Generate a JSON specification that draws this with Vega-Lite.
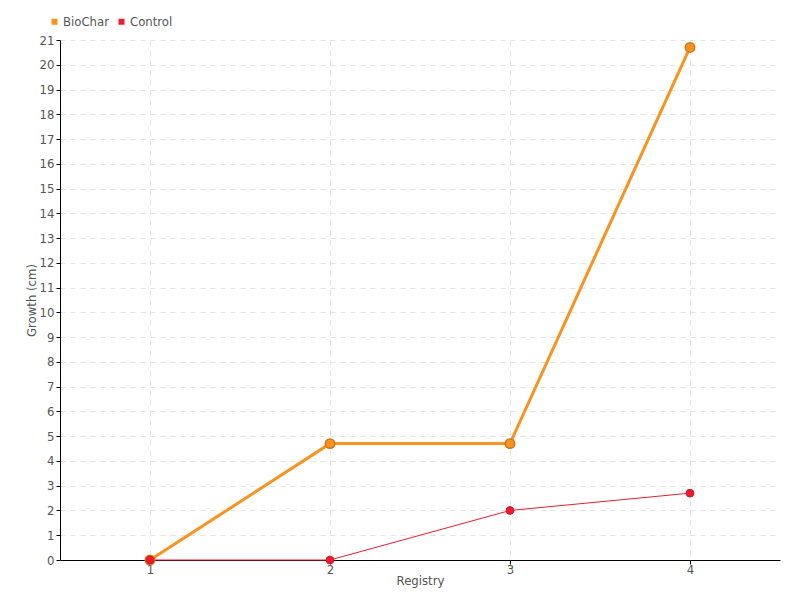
{
  "$schema": "https://vega.github.io/schema/vega-lite/v6.json",
  "width": 720,
  "height": 520,
  "autosize": "none",
  "padding": {"left": 60, "top": 40, "right": 20, "bottom": 40},
  "background": "white",
  "config": {
    "font": "DejaVu Sans Condensed, Liberation Sans Narrow, sans-serif",
    "view": {"stroke": null},
    "axis": {"labelColor": "#555", "titleColor": "#555", "labelFontSize": 13, "titleFontSize": 13, "titleFontWeight": "normal", "domainColor": "black", "tickColor": "black", "gridColor": "#e3e3e3", "gridDash": [5, 5], "gridWidth": 1}
  },
  "data": {
    "values": [
      {"series": "BioChar", "registry": 1, "growth": 0},
      {"series": "BioChar", "registry": 2, "growth": 4.7},
      {"series": "BioChar", "registry": 3, "growth": 4.7},
      {"series": "BioChar", "registry": 4, "growth": 20.7},
      {"series": "Control", "registry": 1, "growth": 0},
      {"series": "Control", "registry": 2, "growth": 0},
      {"series": "Control", "registry": 3, "growth": 2},
      {"series": "Control", "registry": 4, "growth": 2.7}
    ]
  },
  "encoding": {
    "x": {"field": "registry", "type": "quantitative", "scale": {"domain": [0.5, 4.5], "nice": false, "zero": false},
      "axis": {"values": [1, 2, 3, 4], "title": "Registry", "format": "d", "tickSize": 4, "labelPadding": -1, "titlePadding": -2}},
    "y": {"field": "growth", "type": "quantitative", "scale": {"domain": [0, 21], "nice": false},
      "axis": {"values": [0,1,2,3,4,5,6,7,8,9,10,11,12,13,14,15,16,17,18,19,20,21], "title": "Growth (cm)", "tickSize": 4, "labelPadding": 2, "titlePadding": 1}},
    "color": {"field": "series", "type": "nominal", "scale": {"domain": ["BioChar", "Control"], "range": ["#f7931e", "#ee1c2e"]},
      "legend": {"title": null, "orient": "none", "legendX": -12, "legendY": -25, "direction": "horizontal", "symbolType": "square", "symbolSize": 36, "symbolStrokeWidth": 0, "labelFontSize": 13, "labelColor": "#555", "columnPadding": 6, "labelOffset": 2}}
  },
  "layer": [
    {
      "transform": [{"filter": "datum.series === 'BioChar'"}],
      "mark": {"type": "line", "strokeWidth": 3},
      "encoding": {"order": {"field": "registry", "type": "quantitative"}}
    },
    {
      "transform": [{"filter": "datum.series === 'Control'"}],
      "mark": {"type": "line", "strokeWidth": 1},
      "encoding": {"order": {"field": "registry", "type": "quantitative"}}
    },
    {
      "transform": [{"filter": "datum.series === 'BioChar'"}],
      "mark": {"type": "point", "filled": true, "opacity": 1, "strokeWidth": 1.5, "size": 90, "stroke": "#d9731a"}
    },
    {
      "transform": [{"filter": "datum.series === 'Control'"}],
      "mark": {"type": "point", "filled": true, "opacity": 1, "strokeWidth": 1, "size": 60, "stroke": "#d81426"}
    }
  ]
}
